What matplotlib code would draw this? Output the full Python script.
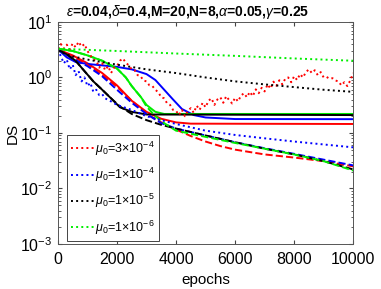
import numpy as np
import matplotlib
matplotlib.use('Agg')
import matplotlib.pyplot as plt
from matplotlib.ticker import LogLocator, NullFormatter

plt.rcParams['font.family'] = ['Liberation Sans', 'DejaVu Sans']
plt.rcParams['mathtext.fontset'] = 'custom'
plt.rcParams['mathtext.rm'] = 'Liberation Sans'
plt.rcParams['mathtext.it'] = 'Liberation Sans:italic'
plt.rcParams['mathtext.bf'] = 'Liberation Sans:bold'

# ---- data ----
# mu0 = 3e-4 (red)
red_dot_x = list(range(0, 10001, 100))
red_dot_y = [3.3, 4.0, 3.3, 3.9, 3.2, 4.1, 3.5, 4.4, 3.6, 4.0,
             3.0, 2.5, 2.1, 2.0, 1.5, 1.8, 1.35, 1.6, 1.2, 1.5,
             1.6, 2.0, 2.2, 1.85, 1.65, 1.4, 1.35, 1.1, 1.05, 0.88,
             0.85, 0.72, 0.7, 0.6, 0.54, 0.44, 0.42, 0.34, 0.32, 0.26,
             0.25, 0.21, 0.26, 0.2, 0.25, 0.28, 0.23, 0.31, 0.26, 0.35,
             0.29, 0.38, 0.42, 0.32, 0.4, 0.44, 0.35, 0.46, 0.39, 0.34,
             0.43, 0.37, 0.47, 0.52, 0.44, 0.55, 0.46, 0.61, 0.52, 0.65,
             0.56, 0.75, 0.63, 0.84, 0.71, 0.89, 0.75, 0.95, 1.0, 0.82,
             1.05, 0.9, 1.15, 1.0, 1.25, 1.4, 1.2, 1.35, 1.1, 1.25,
             1.0, 1.02, 0.95, 0.97, 0.88, 0.85, 0.72, 0.82, 0.7, 0.88,
             1.2]
red_sol_x = [0, 500, 1000, 1500, 2000, 2500, 3000, 3500, 4000, 4500, 10000]
red_sol_y = [3.2, 2.5, 1.8, 1.2, 0.72, 0.38, 0.24, 0.18, 0.155, 0.147, 0.145]
red_dash_x = [0, 500, 1000, 1500, 2000, 2500, 3000, 3500, 4000, 4500, 5000,
              5500, 6000, 7000, 8000, 9000, 10000]
red_dash_y = [3.2, 2.4, 1.7, 1.1, 0.68, 0.38, 0.22, 0.155, 0.115, 0.088, 0.07,
              0.058, 0.05, 0.041, 0.036, 0.031, 0.025]

# mu0 = 1e-4 (blue)
blue_dot_x = [0, 100, 200, 300, 400, 500, 600, 700, 800, 900, 1000, 1100,
              1200, 1300, 1400, 1500, 1600, 1800, 2000, 2500, 3000, 3500,
              4000, 5000, 6000, 7000, 8000, 9000, 10000]
blue_dot_y = [3.2, 2.4, 1.8, 2.1, 1.4, 1.7, 1.1, 1.3, 0.85, 1.0, 0.7, 0.8,
              0.55, 0.6, 0.48, 0.5, 0.42, 0.37, 0.32, 0.26, 0.2, 0.17,
              0.145, 0.11, 0.092, 0.08, 0.07, 0.062, 0.055]
blue_sol_x = [0, 300, 600, 1000, 1500, 2000, 2500, 3000, 3300, 3600, 3900,
              4200, 4600, 5000, 6000, 10000]
blue_sol_y = [3.2, 2.3, 1.9, 1.75, 1.65, 1.55, 1.4, 1.15, 0.9, 0.6, 0.4,
              0.27, 0.21, 0.19, 0.178, 0.177]
blue_dash_x = [0, 500, 1000, 1500, 2000, 2500, 3000, 3500, 4000, 5000,
               6000, 7000, 8000, 9000, 10000]
blue_dash_y = [3.2, 2.2, 1.6, 1.05, 0.6, 0.35, 0.22, 0.15, 0.12, 0.09,
               0.068, 0.053, 0.042, 0.033, 0.026]

# mu0 = 1e-5 (black)
black_dot_x = [0, 500, 1000, 2000, 3000, 4000, 5000, 6000, 7000, 8000, 9000, 10000]
black_dot_y = [3.0, 2.4, 2.1, 1.7, 1.4, 1.2, 1.0, 0.85, 0.75, 0.67, 0.6, 0.55]
black_sol_x = [0, 300, 600, 900, 1200, 1500, 1800, 2100, 2500, 3000, 10000]
black_sol_y = [3.2, 2.6, 2.0, 1.3, 0.85, 0.6, 0.42, 0.29, 0.24, 0.215, 0.21]
black_dash_x = [0, 300, 600, 900, 1200, 1500, 1800, 2100, 2500, 3000, 3500,
                4000, 5000, 6000, 7000, 8000, 9000, 10000]
black_dash_y = [3.2, 2.6, 2.0, 1.3, 0.85, 0.6, 0.42, 0.3, 0.22, 0.17, 0.14,
                0.12, 0.09, 0.068, 0.052, 0.041, 0.031, 0.022]

# mu0 = 1e-6 (green)
green_dot_x = [0, 2000, 4000, 6000, 8000, 10000]
green_dot_y = [3.3, 3.0, 2.7, 2.45, 2.2, 2.0]
green_sol_x = [0, 500, 1000, 1500, 2000, 2300, 2500, 2800, 3000, 3300, 3600, 10000]
green_sol_y = [3.3, 3.0, 2.5, 2.0, 1.45, 1.0, 0.7, 0.45, 0.32, 0.24, 0.22, 0.22]
green_dash_x = [0, 500, 1000, 1500, 2000, 2300, 2500, 2800, 3000, 3300, 3600,
                4000, 5000, 6000, 7000, 8000, 9000, 10000]
green_dash_y = [3.3, 3.0, 2.5, 2.0, 1.45, 1.0, 0.7, 0.45, 0.3, 0.2, 0.15,
                0.11, 0.085, 0.066, 0.052, 0.041, 0.031, 0.021]

labels = [r'$\mu_0$=3$\times$10$^{-4}$', r'$\mu_0$=1$\times$10$^{-4}$',
          r'$\mu_0$=1$\times$10$^{-5}$', r'$\mu_0$=1$\times$10$^{-6}$']

green = '#00ee00'

fig = plt.figure(figsize=(3.81, 2.89), dpi=100)
ax = fig.add_axes([0.152, 0.156, 0.775, 0.768])

lw = 1.4
# solid and dashed first, dotted on top
ax.plot(red_sol_x, red_sol_y, '-', color='red', lw=lw)
ax.plot(blue_sol_x, blue_sol_y, '-', color='blue', lw=lw)
ax.plot(green_sol_x, green_sol_y, '-', color=green, lw=lw)
ax.plot(black_sol_x, black_sol_y, '-', color='black', lw=lw)
ax.plot(red_dash_x, red_dash_y, '--', color='red', lw=lw)
ax.plot(blue_dash_x, blue_dash_y, '--', color='blue', lw=lw)
ax.plot(black_dash_x, black_dash_y, '--', color='black', lw=lw)
ax.plot(green_dash_x, green_dash_y, '--', color=green, lw=lw)

h1, = ax.plot(red_dot_x, red_dot_y, ':', color='red', lw=lw)
h2, = ax.plot(blue_dot_x, blue_dot_y, ':', color='blue', lw=lw)
h3, = ax.plot(black_dot_x, black_dot_y, ':', color='black', lw=lw)
h4, = ax.plot(green_dot_x, green_dot_y, ':', color=green, lw=lw)

ax.set_yscale('log')
ax.set_xlim(0, 10000)
ax.set_ylim(1e-3, 1e1)
ax.set_xticks([0, 2000, 4000, 6000, 8000, 10000])
ax.yaxis.set_major_locator(LogLocator(base=10, numticks=10))
ax.yaxis.set_minor_locator(LogLocator(base=10, subs=np.arange(2, 10), numticks=10))
ax.yaxis.set_minor_formatter(NullFormatter())
ax.tick_params(which='both', direction='in', top=True, right=True,
               labelsize=11.5, color='#444444')
ax.tick_params(axis='x', pad=6)
ax.tick_params(axis='y', pad=4)
ax.tick_params(which='major', length=3)
ax.tick_params(which='minor', length=1.8)
for s in ax.spines.values():
    s.set_color('#555555')
    s.set_linewidth(0.7)

ax.set_xlabel('epochs', fontsize=11, labelpad=4)
ax.set_ylabel('DS', fontsize=11, labelpad=0)
ax.set_title(r'$\epsilon$=0.04,$\delta$=0.4,M=20,N=8,$\alpha$=0.05,$\gamma$=0.25',
             fontsize=10, fontweight='bold', pad=4, x=0.44)

leg = ax.legend([h1, h2, h3, h4], labels, loc='upper left',
                bbox_to_anchor=(0.03, 0.49), fontsize=9, frameon=True,
                fancybox=False, edgecolor='#444444', framealpha=1,
                handlelength=1.8, handletextpad=0.1, labelspacing=0.65,
                borderpad=0.35, borderaxespad=0)
leg.get_frame().set_linewidth(0.7)

fig.savefig('out.png', dpi=100)
